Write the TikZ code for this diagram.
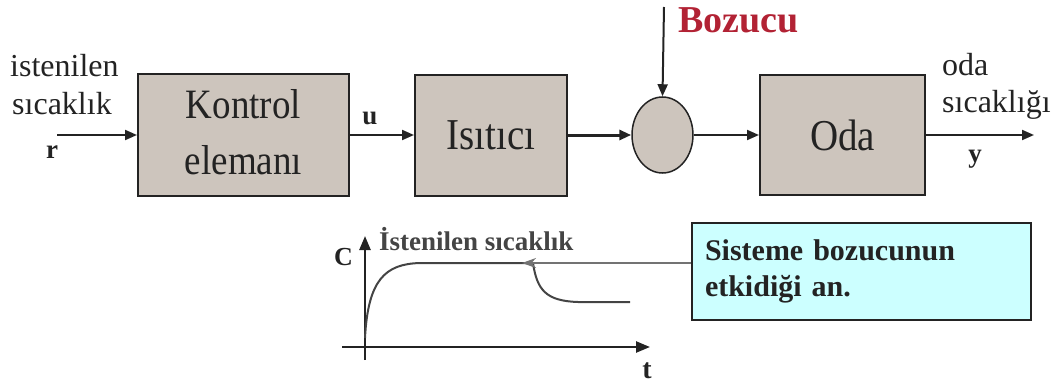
\documentclass[tikz,border=0pt]{standalone}
\usepackage{fontspec}
\usepackage{graphicx}
\setmainfont{Liberation Serif}
\usetikzlibrary{arrows.meta,shapes.geometric}
\definecolor{boxfill}{RGB}{205,197,189}
\definecolor{calfill}{RGB}{204,255,255}
\definecolor{bzred}{RGB}{178,34,52}
\definecolor{ink}{RGB}{35,35,35}
\newcommand{\fsz}[1]{\fontsize{#1}{#1}\selectfont}
\newcommand{\tallt}[1]{\scalebox{1}[1.13]{#1}}
\begin{document}
\begin{tikzpicture}[x=1pt,y=-1pt,
  blk/.style={draw=ink, line width=2pt, fill=boxfill, inner sep=0pt, text=ink},
  sig/.style={line width=2pt, draw=ink, -{Triangle[length=12pt,width=10pt]}},
  axisline/.style={line width=2.5pt, draw=ink, -{Triangle[length=14pt,width=11pt]}},
  lbl/.style={inner sep=0pt, text=ink},
]
\useasboundingbox (0,0) rectangle (1061,388);

% blocks
\node[blk, minimum width=211pt, minimum height=122pt] (kontrol) at (243.5,135)
  {\fontsize{37}{50}\selectfont\tallt{\begin{tabular}{@{}c@{}}Kontrol\\elemanı\end{tabular}}};
\node[blk, minimum width=152pt, minimum height=121pt] (isitici) at (491,135)
  {\fsz{39}\tallt{Isıtıcı}};
\node[ellipse, draw=ink, line width=1.5pt, fill=boxfill, minimum width=61pt, minimum height=76pt, inner sep=0pt] (sum) at (662.5,135) {};
\node[blk, minimum width=165pt, minimum height=120pt] (oda) at (842.5,135)
  {\fsz{39}\tallt{Oda}};

% signal connectors
\coordinate (in) at (57,135);
\coordinate (out) at (1034,135);
\coordinate (bz) at (664,7);
\draw[sig] (in) -- (kontrol.west);
\draw[sig] (kontrol.east) -- (isitici.west);
\draw[sig, line width=3pt] (isitici.east) -- (sum.west);
\draw[sig] (sum.east) -- (oda.west);
\draw[sig] (oda.east) -- (out);
\draw[sig] (bz) -- (sum.north);

% labels
\node[lbl, anchor=base west, font=\fsz{32}] (ist1) at (10,76) {istenilen};
\node[lbl, anchor=base west, font=\fsz{32}] (ist2) at (12,114) {sıcaklık};
\node[lbl, anchor=base, font=\bfseries\fsz{27}] (r) at (52,158) {r};
\node[lbl, anchor=base, font=\bfseries\fsz{27}] (u) at (370,124) {u};
\node[lbl, anchor=base west, font=\fsz{32}] (oda1) at (942,75) {oda};
\node[lbl, anchor=base west, font=\fsz{32}] (oda2) at (942,112) {sıcaklığı};
\node[lbl, anchor=base, font=\bfseries\fsz{27}] (y) at (975,162) {y};
\node[lbl, anchor=base west, font=\bfseries\fsz{38}, text=bzred] (bozucu) at (678,32) {Bozucu};

% response graph
\coordinate (yb) at (365,360);
\coordinate (yt) at (365,236);
\coordinate (xl) at (342,347);
\coordinate (xr) at (650,347);
\draw[axisline] (yb) -- (yt);
\draw[axisline] (xl) -- (xr);
\draw[line width=2pt, draw=ink!85] (365,338) .. controls (368,280) and (385,264) .. (420,263)
  -- (533,263) .. controls (537,290) and (546,301) .. (578,302) -- (630,302);
\node[lbl, anchor=base west, font=\bfseries\fsz{26}] (C) at (334,265) {C};
\node[lbl, anchor=base, font=\bfseries\fsz{28}] (t) at (647,378) {t};
\node[lbl, anchor=base west, font=\bfseries\fsz{27}, text=ink!85] (istenilen) at (379,250) {İstenilen sıcaklık};

% callout
\node[draw=ink, line width=2pt, fill=calfill, minimum width=339pt, minimum height=97pt,
  text width=313pt, align=left, text=ink, font=\bfseries\fontsize{30}{36}\selectfont] (callout)
  at (861.5,271.5) {Sisteme bozucunun\\etkidiği an.};
\coordinate (tip) at (522,263);
\draw[line width=1.5pt, draw=black!55, -{Stealth[length=14pt,width=10pt]}] (callout.west |- tip) -- (tip);
\end{tikzpicture}
\end{document}
